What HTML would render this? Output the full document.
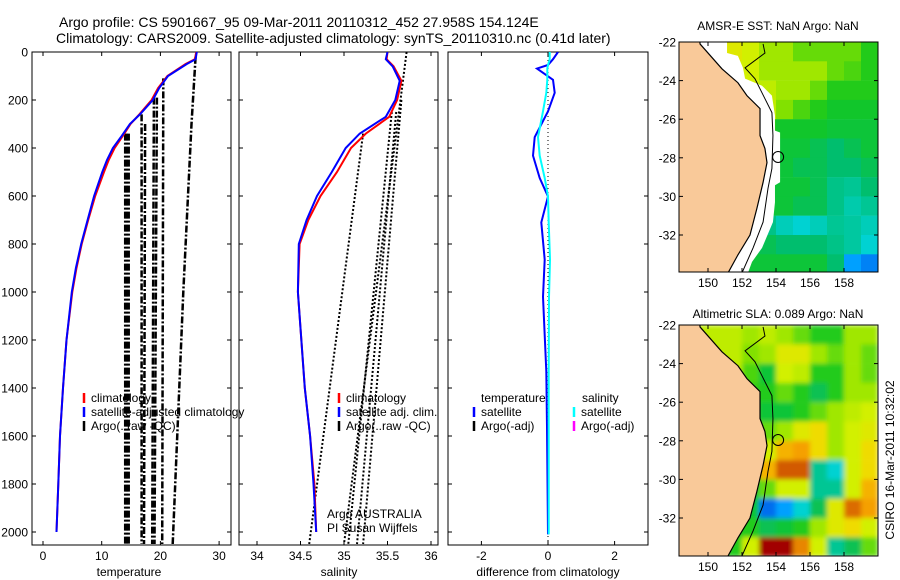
<!DOCTYPE html>
<html><head><meta charset="utf-8"><style>
html,body{margin:0;padding:0;background:#fff;}
svg{display:block;font-family:"Liberation Sans",sans-serif;}
</style></head><body>
<svg id="fig" width="900" height="580" viewBox="0 0 900 580" xmlns="http://www.w3.org/2000/svg">
<defs>
<clipPath id="c1"><rect x="32" y="52" width="199" height="493"/></clipPath>
<clipPath id="c2"><rect x="239" y="52" width="199" height="493"/></clipPath>
<clipPath id="c3"><rect x="448" y="52" width="200" height="493"/></clipPath>
<clipPath id="m1"><rect x="679" y="42" width="199" height="230"/></clipPath>
<clipPath id="m2"><rect x="679" y="325" width="199" height="231"/></clipPath>
<filter id="smooth" x="-10%" y="-10%" width="120%" height="120%"><feGaussianBlur stdDeviation="2.5" edgeMode="duplicate"/></filter>
</defs>
<text x="59" y="27" font-size="14">Argo profile: CS 5901667_95 09-Mar-2011 20110312_452 27.958S 154.124E</text>
<text x="56" y="43" font-size="14">Climatology: CARS2009. Satellite-adjusted climatology: synTS_20110310.nc (0.41d later)</text>
<text x="778" y="30" font-size="12" text-anchor="middle">AMSR-E SST: NaN Argo: NaN</text>
<text x="778" y="318" font-size="12" text-anchor="middle">Altimetric SLA: 0.089 Argo: NaN</text>
<text transform="translate(894,460) rotate(-90)" font-size="12" text-anchor="middle">CSIRO 16-Mar-2011 10:32:02</text>
<g id="g1"></g>
<g id="g2"></g>
<g id="g3"></g>
<g id="gm1"></g>
<g id="gm2"></g>
</svg>
<script>
// ---------- profile data ----------
const tDepth = [0,30,50,100,150,200,260,300,350,400,450,500,600,700,800,900,1000,1200,1400,1600,1800,2000];
const tSat   = [26.2,26.0,24.5,21.3,19.8,18.7,16.5,14.8,13.4,11.9,10.9,10.1,8.7,7.6,6.5,5.6,4.9,4.0,3.4,2.9,2.6,2.3];
const tClim  = [26.1,25.9,24.3,21.2,19.6,18.5,16.4,14.9,13.6,12.2,11.2,10.4,8.9,7.7,6.6,5.7,5.0,4.0,3.4,2.9,2.6,2.3];
const sDepth = [0,30,60,120,200,270,340,400,500,600,700,800,1000,1400,1600,1800,2000];
const sSat   = [35.50,35.48,35.56,35.64,35.59,35.48,35.18,35.02,34.86,34.69,34.57,34.48,34.47,34.55,34.61,34.65,34.68];
const sClim  = [35.50,35.49,35.57,35.66,35.61,35.52,35.25,35.08,34.92,34.73,34.59,34.49,34.47,34.55,34.61,34.66,34.68];
const argoTDepth = [[340,2050],[340,2050],[340,2050],[260,2050],[300,2050],[190,2050],[190,2050],[110,2050],[20,300,1000,2050]];
const argoTVal   = [[14.0,14.0],[14.3,14.3],[14.6,14.6],[16.8,16.8],[17.4,17.2],[18.9,18.6],[19.4,19.0],[20.5,20.3],[26.0,25.3,23.9,22.1]];
const argoSDepth = [[340,2050],[0,2050],[250,2050],[250,2050],[200,2050]];
const argoSVal   = [[35.22,34.60],[35.72,35.00],[35.55,35.05],[35.60,35.15],[35.66,35.22]];
const dDepth = [0,30,54,69,116,170,247,355,432,525,602,710,865,1020,1330,1560,2010];
const dTemp  = [0.30,0.15,0.0,-0.33,0.15,0.2,0.0,-0.4,-0.45,-0.25,0.0,-0.2,-0.1,-0.15,-0.05,-0.03,0.0];
const dSal   = [0.05,0.05,0.0,-0.02,-0.02,-0.05,-0.15,-0.3,-0.25,-0.1,0.0,0.02,0.06,0.03,0.02,0.02,0.02];
const depthTicks = [0,200,400,600,800,1000,1200,1400,1600,1800,2000];
const tTicks = [0,10,20,30];
const sTicks = [34,34.5,35,35.5,36];
const dTicks = [-2,0,2];
// ---------- map data ----------
const gridLon = [148.5,149.5,150.5,151.5,152.5,153.5,154.5,155.5,156.5,157.5,158.5,159.5];
const gridLat = [-22.5,-23.5,-24.5,-25.5,-26.5,-27.5,-28.5,-29.5,-30.5,-31.5,-32.5,-33.5];
const sstGrid = [
[.6,.6,.6,.62,.6,.55,.55,.5,.5,.5,.5,.45],
[.6,.6,.6,.6,.6,.55,.55,.55,.55,.5,.48,.45],
[.6,.6,.6,.6,.6,.58,.55,.55,.5,.45,.45,.45],
[.6,.6,.6,.6,.6,.58,.52,.48,.45,.43,.43,.43],
[.6,.6,.6,.6,.6,.45,.43,.43,.43,.42,.42,.42],
[.6,.6,.6,.6,.6,.42,.42,.42,.4,.38,.4,.42],
[.6,.6,.6,.6,.6,.42,.42,.4,.4,.38,.38,.4],
[.6,.6,.6,.6,.6,.42,.42,.42,.4,.36,.35,.38],
[.6,.6,.6,.6,.6,.42,.42,.4,.4,.36,.33,.35],
[.6,.6,.6,.6,.6,.36,.32,.3,.32,.35,.34,.32],
[.6,.6,.6,.6,.42,.4,.38,.38,.38,.36,.34,.3],
[.6,.6,.6,.6,.42,.42,.42,.42,.42,.38,.25,.22]];
const slaGrid = [
[.58,.58,.58,.58,.55,.58,.55,.5,.45,.45,.55,.55],
[.58,.58,.58,.58,.52,.55,.62,.62,.55,.5,.55,.5],
[.58,.58,.58,.58,.48,.42,.6,.58,.45,.45,.55,.5],
[.58,.58,.58,.58,.46,.45,.5,.45,.4,.45,.55,.55],
[.58,.58,.58,.58,.46,.42,.42,.45,.5,.55,.58,.6],
[.58,.58,.58,.58,.46,.5,.55,.62,.65,.55,.6,.62],
[.58,.58,.58,.58,.45,.6,.7,.72,.65,.55,.6,.65],
[.58,.58,.58,.58,.45,.7,.8,.8,.35,.3,.6,.65],
[.58,.58,.58,.55,.42,.5,.6,.6,.35,.35,.6,.7],
[.58,.58,.58,.5,.42,.2,.25,.3,.4,.62,.78,.72],
[.58,.58,.58,.45,.45,.4,.42,.45,.55,.62,.65,.6],
[.58,.58,.58,.45,.6,.92,.92,.75,.6,.35,.4,.5]];
const coastLon = [149.53,150.82,151.76,152.29,153.06,153.06,153.35,153.47,153.24,152.88,152.47,151.76,151.18];
const coastLat = [-22.1,-23.39,-24.11,-24.78,-25.45,-26.85,-27.52,-28.25,-29.27,-30.61,-32.0,-33.03,-33.96];
const isoLon = [153.24,153.35,152.18,152.76,153.76,153.82,153.76,153.53,153.24,152.65,152.0];
const isoLat = [-22.1,-22.57,-23.34,-23.9,-25.66,-26.85,-28.55,-29.58,-31.33,-32.67,-33.96];
const maskLon = [151.12,151.12,151.76,152.06,152.18,153.18,153.76,153.94,153.94,154.24,154.24,153.94,153.94,153.82,153.18,152.59,152.35];
const maskLat = [-22,-22.57,-22.72,-23.34,-23.9,-24.27,-24.78,-25.81,-26.59,-26.69,-29.27,-29.42,-30.3,-31.33,-32.67,-33.39,-33.96];
const floatPos = [154.124,-27.958];
const lonTicks = [150,152,154,156,158];
const latTicks = [-22,-24,-26,-28,-30,-32];

const NS = "http://www.w3.org/2000/svg";
function mk(parent, tag, attrs, name, txt){
  const e = document.createElementNS(NS, tag);
  for (const k in attrs) e.setAttribute(k, attrs[k]);
  
  
  if (txt !== undefined) e.textContent = txt;
  parent.appendChild(e);
  return e;
}
const py = d => 52 + 0.24*d;
const px1 = t => 43 + 5.87*t;
const px2 = s => 257 + 87*(s-34);
const px3 = v => 548 + 33.3*v;
function pts(xs, ds, fx){ return xs.map((v,i)=>fx(v).toFixed(1)+','+py(ds[i]).toFixed(1)).join(' '); }

function frame(g, x0, x1, fx, xt, title, titleX){
  mk(g,'rect',{x:x0,y:52,width:x1-x0,height:493,fill:'none',stroke:'#000','stroke-width':1},'axes-frame');
  depthTicks.forEach(d=>{
    mk(g,'line',{x1:x0,x2:x0+4,y1:py(d),y2:py(d),stroke:'#000'},'y-tick');
    mk(g,'line',{x1:x1-4,x2:x1,y1:py(d),y2:py(d),stroke:'#000'},'y-tick');
  });
  xt.forEach(v=>{
    const x = fx(v);
    mk(g,'line',{x1:x,x2:x,y1:52,y2:56,stroke:'#000'},'x-tick');
    mk(g,'line',{x1:x,x2:x,y1:541,y2:545,stroke:'#000'},'x-tick');
    mk(g,'text',{x:x,y:560,'font-size':12,'text-anchor':'middle'},'x-tick-label',String(v));
  });
  mk(g,'text',{x:titleX,y:576,'font-size':12,'text-anchor':'middle'},'x-axis-title',title);
}
function legendRow(g,x,y,color,label){
  mk(g,'line',{x1:x,x2:x,y1:y-9,y2:y+1,stroke:color,'stroke-width':2.5},'legend-swatch');
  mk(g,'text',{x:x+7,y:y,'font-size':12},'legend-label',label);
}
// Panel 1
const g1 = document.getElementById('g1');
frame(g1,32,231,px1,tTicks,'temperature',129);
depthTicks.forEach(d=>mk(g1,'text',{x:28,y:py(d)+4.5,'font-size':12,'text-anchor':'end'},'y-tick-label',String(d)));
const c1 = mk(g1,'g',{'clip-path':'url(#c1)'},'temperature-plot-area');
argoTDepth.forEach((ds,i)=>mk(c1,'polyline',{points:pts(argoTVal[i],ds,px1),fill:'none',stroke:'#000','stroke-width':2.5,'stroke-dasharray':'7,2,2,2'},'argo-temperature-line'));
mk(c1,'polyline',{points:pts(tClim,tDepth,px1),fill:'none',stroke:'#f00','stroke-width':2},'climatology-temperature-line');
mk(c1,'polyline',{points:pts(tSat,tDepth,px1),fill:'none',stroke:'#00f','stroke-width':2},'satellite-temperature-line');
legendRow(g1,84,402,'#f00','climatology');
legendRow(g1,84,416,'#00f','satellite-adjusted climatology');
legendRow(g1,84,430,'#000','Argo(..raw -QC)');
// Panel 2
const g2 = document.getElementById('g2');
frame(g2,239,438,px2,sTicks,'salinity',339);
const c2 = mk(g2,'g',{'clip-path':'url(#c2)'},'salinity-plot-area');
argoSDepth.forEach((ds,i)=>mk(c2,'polyline',{points:pts(argoSVal[i],ds,px2),fill:'none',stroke:'#000','stroke-width':2,'stroke-dasharray':'2,2'},'argo-salinity-line'));
mk(c2,'polyline',{points:pts(sClim,sDepth,px2),fill:'none',stroke:'#f00','stroke-width':2},'climatology-salinity-line');
mk(c2,'polyline',{points:pts(sSat,sDepth,px2),fill:'none',stroke:'#00f','stroke-width':2},'satellite-salinity-line');
legendRow(g2,339,402,'#f00','climatology');
legendRow(g2,339,416,'#00f','satellite adj. clim.');
legendRow(g2,339,430,'#000','Argo(..raw -QC)');
mk(g2,'text',{x:327,y:518,'font-size':12},'argo-credit','Argo AUSTRALIA');
mk(g2,'text',{x:327,y:532,'font-size':12},'pi-credit','PI Susan Wijffels');
// Panel 3
const g3 = document.getElementById('g3');
frame(g3,448,648,px3,dTicks,'difference from climatology',548);
const c3 = mk(g3,'g',{'clip-path':'url(#c3)'},'difference-plot-area');
mk(c3,'line',{x1:px3(0),x2:px3(0),y1:52,y2:545,stroke:'#000','stroke-dasharray':'1,3'},'zero-line');
mk(c3,'polyline',{points:pts(dTemp,dDepth,px3),fill:'none',stroke:'#00f','stroke-width':2},'temperature-difference-line');
mk(c3,'polyline',{points:pts(dSal,dDepth,px3),fill:'none',stroke:'#0ff','stroke-width':2},'salinity-difference-line');
mk(g3,'text',{x:481,y:402,'font-size':12},'legend-heading','temperature');
legendRow(g3,474,416,'#00f','satellite');
legendRow(g3,474,430,'#000','Argo(-adj)');
mk(g3,'text',{x:582,y:402,'font-size':12},'legend-heading','salinity');
legendRow(g3,574,416,'#0ff','satellite');
legendRow(g3,574,430,'#f0f','Argo(-adj)');
// ---------- maps ----------
const stops = [[0,[0,0,140]],[0.15,[0,60,220]],[0.25,[0,160,255]],[0.3,[0,210,210]],[0.38,[0,190,110]],[0.44,[20,200,30]],[0.52,[130,225,0]],[0.6,[210,240,0]],[0.66,[245,215,0]],[0.72,[245,160,0]],[0.8,[210,90,0]],[0.9,[170,0,0]],[1,[130,0,0]]];
function cmap(v){
  for (let i=1;i<stops.length;i++){
    if (v<=stops[i][0]){
      const a=stops[i-1], b=stops[i], f=(v-a[0])/(b[0]-a[0]);
      const c=a[1].map((x,j)=>Math.round(x+(b[1][j]-x)*f));
      return 'rgb('+c.join(',')+')';
    }
  }
  return 'rgb(130,0,0)';
}
const mx = lon => 708 + 17*(lon-150);
function drawMap(gid, clip, top, bottom, grid, withMask, smooth){
  const g = document.getElementById(gid);
  const my = lat => top + 19.3*(-22-lat);
  const c = mk(g,'g',{'clip-path':'url('+clip+')'},'map-plot-area');
  const cells = mk(c,'g',smooth?{filter:'url(#smooth)'}:{},'map-cells');
  grid.forEach((row,r)=>row.forEach((v,k)=>{
    mk(cells,'rect',{x:mx(gridLon[k]-0.5),y:my(gridLat[r]+0.5),width:17.2,height:19.5,fill:cmap(v)},'map-cell');
  }));
  if (withMask){
    const mp = maskLon.map((l,i)=>mx(l)+','+my(maskLat[i])).join(' ')+' '+mx(147)+','+my(-34.5)+' '+mx(147)+','+my(-21.5);
    mk(c,'polygon',{points:mp,fill:'#fff'},'no-data-mask');
  }
  const lp = coastLon.map((l,i)=>mx(l)+','+my(coastLat[i])).join(' ')+' '+mx(151)+','+my(-34.5)+' '+mx(147)+','+my(-34.5)+' '+mx(147)+','+my(-21.5)+' '+mx(149.5)+','+my(-21.5);
  mk(c,'polygon',{points:lp,fill:'#f9c999',stroke:'#000','stroke-width':1.2},'land');
  mk(c,'polyline',{points:isoLon.map((l,i)=>mx(l)+','+my(isoLat[i])).join(' '),fill:'none',stroke:'#000','stroke-width':1},'isobath-line');
  mk(c,'circle',{cx:mx(floatPos[0]),cy:my(floatPos[1]),r:5.5,fill:'none',stroke:'#000','stroke-width':1},'argo-float-marker');
  mk(g,'rect',{x:679,y:top,width:199,height:bottom-top,fill:'none',stroke:'#000'},'map-frame');
  lonTicks.forEach(l=>{
    mk(g,'line',{x1:mx(l),x2:mx(l),y1:bottom-4,y2:bottom,stroke:'#000'},'lon-tick');
    mk(g,'line',{x1:mx(l),x2:mx(l),y1:top,y2:top+4,stroke:'#000'},'lon-tick');
    mk(g,'text',{x:mx(l),y:bottom+15,'font-size':12,'text-anchor':'middle'},'lon-tick-label',String(l));
  });
  latTicks.forEach(l=>{
    mk(g,'line',{x1:679,x2:683,y1:my(l),y2:my(l),stroke:'#000'},'lat-tick');
    mk(g,'line',{x1:874,x2:878,y1:my(l),y2:my(l),stroke:'#000'},'lat-tick');
    mk(g,'text',{x:676,y:my(l)+4.5,'font-size':12,'text-anchor':'end'},'lat-tick-label',String(l));
  });
}
drawMap('gm1','#m1',42,272,sstGrid,true,false);
drawMap('gm2','#m2',325,556,slaGrid,false,true);
</script>
</body></html>
